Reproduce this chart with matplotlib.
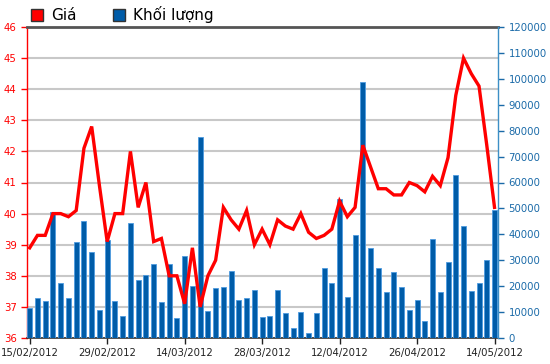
import numpy as np
import matplotlib
matplotlib.use("Agg")
from matplotlib import pyplot as plt
from matplotlib.patches import Patch

# gia dong cua (nghin dong)
gia = [38.9, 39.3, 39.3, 40.0, 40.0, 39.9, 40.1, 42.1, 42.8, 40.9,
       39.1, 40.0, 40.0, 42.0, 40.2, 41.0, 39.1, 39.2, 38.0, 38.0,
       37.1, 38.9, 37.0, 38.0, 38.5, 40.2, 39.8, 39.5, 40.1, 39.0,
       39.5, 39.0, 39.8, 39.6, 39.5, 40.0, 39.4, 39.2, 39.3, 39.5,
       40.4, 39.9, 40.2, 42.2, 41.5, 40.8, 40.8, 40.6, 40.6, 41.0,
       40.9, 40.7, 41.2, 40.9, 41.8, 43.8, 45.0, 44.5, 44.1, 42.2, 40.2]

# khoi luong giao dich
khoi_luong = [11400, 15400, 14300, 48800, 21100, 15400, 37000, 45000, 33100, 10800,
              37800, 14300, 8600, 44200, 22300, 24500, 28700, 13800, 28700, 7600,
              31800, 20000, 77600, 10400, 19200, 19600, 25800, 14600, 15400, 18500,
              8200, 8500, 18600, 9500, 3700, 10100, 1800, 9500, 27200, 21100,
              53600, 16000, 39700, 98600, 34800, 26900, 17600, 25300, 19600, 10800,
              14600, 6600, 38200, 17600, 29400, 62900, 43200, 18100, 21100, 30000, 49400]

ngay = ["15/02/2012", "29/02/2012", "14/03/2012", "28/03/2012",
        "12/04/2012", "26/04/2012", "14/05/2012"]
vi_tri_ngay = [0, 10, 20, 30, 40, 50, 60]

x = np.arange(len(gia))
do = "#ff0000"
xanh = "#005ca8"
xanh_truc = "#1a6aa8"

fig = plt.figure(figsize=(5.5, 3.64), dpi=100)
ax = fig.add_axes([27/550, 1-338/364, 471/550, 311/364])
ax2 = ax.twinx()   # khoi luong (truc phai)
ax3 = ax.twinx()   # duong gia, ve tren cot

# truc gia + luoi
ax.set_ylim(36, 46)
ax.set_yticks(range(36, 47))
ax.set_xlim(-0.35, 60.45)
ax.grid(axis="y", color="#c8c8c8", lw=1.5)
ax.set_axisbelow(True)
ax.tick_params(axis="y", colors=do, labelsize=7.3, length=4, width=1)
ax.tick_params(axis="x", colors="#222222", labelsize=7.3, length=4, width=1)
ax.set_xticks(vi_tri_ngay)
ax.set_xticklabels(ngay)
ax.spines["left"].set_color(do)
ax.spines["left"].set_linewidth(1)
ax.spines["top"].set_color("#555555")
ax.spines["top"].set_linewidth(2)
ax.spines["bottom"].set_color("#333333")
ax.spines["bottom"].set_linewidth(1.2)
ax.spines["right"].set_visible(False)

# cot khoi luong
ax2.bar(x, khoi_luong, width=0.65, color=xanh, edgecolor="#4d9be0", linewidth=0.6)
ax2.set_ylim(0, 120000)
ax2.set_yticks(range(0, 120001, 10000))
ax2.tick_params(axis="y", colors=xanh_truc, labelsize=7.3, length=4, width=1)
for s in ["left", "top", "bottom"]:
    ax2.spines[s].set_visible(False)
ax2.spines["right"].set_color("#3d8fc6")
ax2.spines["right"].set_linewidth(1)
for lb in ax2.get_yticklabels():
    lb.set_color(xanh_truc)

# duong gia
ax3.plot(x, gia, color=do, lw=2.4, solid_joinstyle="miter")
ax3.set_ylim(36, 46)
ax3.set_yticks([])
for s in ax3.spines.values():
    s.set_visible(False)
ax.set_xlim(-0.35, 60.45)

fig.legend(handles=[Patch(fc=do, ec="#333333", lw=1), Patch(fc=xanh, ec="#333333", lw=1)],
           labels=["Giá", "Khối lượng"], loc="upper left", ncol=2, frameon=False,
           bbox_to_anchor=(31/550, 1-6/364), borderpad=0, borderaxespad=0,
           handlelength=0.8, handleheight=0.8, handletextpad=0.5, columnspacing=2.4,
           prop={"size": 11})

fig.savefig("out.png", dpi=100, facecolor="white")
